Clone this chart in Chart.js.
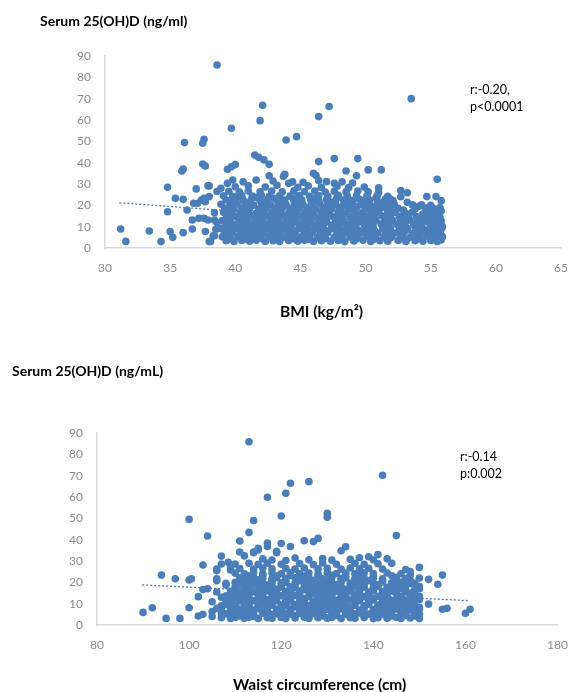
<!DOCTYPE html>
<html>
<head>
<meta charset="utf-8">
<script src="https://cdn.jsdelivr.net/npm/chart.js@4.4.0/dist/chart.umd.min.js"></script>
<style>
html, body { margin: 0; padding: 0; background: #fff; }
#wrap { position: relative; width: 581px; height: 692px; }
canvas { position: absolute; left: 0; }
#bmiChart { top: 0; }
#waistChart { top: 330px; }
</style>
</head>
<body>
<div id="wrap">
  <canvas id="bmiChart" width="581" height="330"></canvas>
  <canvas id="waistChart" width="581" height="362"></canvas>
</div>
<script>
// axis ranges (tick labels)
var bmiTicks = [30, 65, 5];
var waistTicks = [80, 180, 20];
var vitdTicks = [0, 90, 10];

// BMI vs serum 25(OH)D, scattered points
var bmiOutliers = [
  [38.6,85.8],[42.1,66.9],[41.9,59.7],[39.7,56.1],[43.9,50.6],[44.7,52.2],[36.1,49.4],[37.6,51.0],
  [37.5,49.1],[37.5,39.4],[37.7,38.4],[36.0,37.0],[35.9,36.1],[39.4,36.9],[39.7,38.1],[40.0,39.1],
  [41.5,43.6],[41.8,42.5],[42.2,41.3],[42.6,39.2],[42.6,33.9],[41.6,31.9],[43.8,34.5],[43.7,33.6],
  [53.5,70.0],[47.2,66.3],[46.4,61.6],[46.4,40.5],[47.6,41.9],[49.4,41.9],[48.5,36.1],[49.3,33.9],
  [50.2,36.6],[51.2,36.6],[55.5,32.2],[46.0,35.0],[46.2,34.0],[44.1,30.3],[44.4,31.0],[47.0,31.1],
  [47.6,30.3],[52.7,26.9],[53.2,25.9],[52.7,24.0],[53.2,21.4],[54.7,24.1],[55.4,24.1],[55.8,22.2],
  [55.8,17.3],[55.8,12.7],[55.9,10.0],[55.8,6.1],[55.8,3.8],[51.6,23.3],[51.9,23.0],[54.3,20.2],
  [54.4,15.9],[53.9,14.7],
  [34.8,28.5],[35.4,23.3],[34.8,17.0],[36.0,22.8],[36.3,17.8],[37.0,27.7],[37.9,29.2],[31.2,8.9],
  [31.6,3.1],[33.4,8.0],[34.3,3.0],[35.0,7.7],[35.2,5.0],[36.0,7.2],[36.7,8.9],[36.7,13.1],
  [37.2,13.9],[37.6,13.9],[37.9,13.1],[37.7,7.7],[38.1,3.1],[38.4,5.8],[38.5,8.8],[37.1,21.0],
  [37.4,22.5],[37.7,21.7],[38.0,24.1],[37.6,23.3],[38.0,29.1],[39.4,30.3],[39.8,31.9],[38.4,13.1],
  [38.3,5.6],[38.0,3.0],[36.8,21.0],[38.6,26.5],[38.9,28.0],[38.4,16.5],[38.6,11.8]
];

// BMI vs serum 25(OH)D, dense cloud
var bmiCore = [
  [39.3,3.4],[39.9,3.1],[40.5,3.5],[41.1,3.2],[41.6,3.6],[42.3,3.1],[42.9,3.4],[43.4,3.0],[44.1,3.5],
  [44.8,3.2],[45.3,3.6],[46.0,3.1],[46.6,3.4],[47.3,3.2],[47.9,3.5],[48.4,3.0],[49.1,3.3],[49.8,3.6],
  [50.4,3.1],[51.1,3.4],[51.7,3.2],[52.5,3.5],[53.1,3.1],[53.8,3.4],[54.4,3.2],[55.0,3.5],[55.5,3.1],
  [39.0,5.3],[39.6,5.0],[40.2,5.4],[40.8,5.1],[41.4,5.5],[41.9,4.9],[42.6,5.2],[43.2,5.6],[43.7,5.0],
  [44.4,5.3],[45.0,5.1],[45.7,5.5],[46.3,4.9],[46.9,5.3],[47.6,5.0],[48.2,5.4],[48.8,5.2],[49.4,4.9],
  [50.1,5.5],[50.7,5.0],[51.4,5.3],[52.0,5.1],[52.8,5.4],[53.4,5.0],[54.1,5.3],[54.7,5.6],[55.3,5.0],
  [55.9,5.2],
  [39.2,7.0],[39.8,7.3],[40.4,6.9],[41.0,7.2],[41.7,7.4],[42.2,6.8],[42.8,7.1],[43.5,7.3],[44.1,6.9],
  [44.6,7.2],[45.3,7.0],[45.9,7.4],[46.5,6.9],[47.1,7.2],[47.8,7.0],[48.5,7.3],[49.0,6.8],[49.7,7.1],
  [50.3,7.4],[50.9,6.9],[51.6,7.2],[52.3,7.0],[52.9,7.3],[53.6,6.9],[54.2,7.2],[54.9,7.0],[55.6,7.3],
  [38.9,9.1],[39.5,8.8],[40.1,9.2],[40.7,9.0],[41.3,8.7],[42.0,9.3],[42.5,8.9],[43.1,9.1],[43.8,8.8],
  [44.3,9.2],[45.0,9.0],[45.6,8.7],[46.2,9.3],[46.8,8.9],[47.4,9.1],[48.1,8.8],[48.7,9.2],[49.3,9.0],
  [50.0,8.7],[50.6,9.3],[51.3,8.9],[51.9,9.1],[52.6,8.8],[53.2,9.2],[53.9,9.0],[54.5,8.7],[55.2,9.2],
  [55.8,8.9],
  [39.3,10.8],[39.9,11.1],[40.5,10.7],[41.1,11.0],[41.8,10.9],[42.4,11.2],[43.0,10.7],[43.6,11.0],
  [44.2,10.8],[44.9,11.1],[45.5,10.9],[46.1,10.6],[46.7,11.2],[47.4,10.8],[48.0,11.0],[48.6,10.7],
  [49.2,11.1],[49.9,10.9],[50.5,10.6],[51.2,11.2],[51.8,10.8],[52.4,11.0],[53.0,10.7],[53.7,11.1],
  [54.3,10.9],[55.0,11.2],[55.6,10.8],
  [39.0,12.9],[39.6,12.6],[40.3,13.0],[40.9,12.8],[41.5,12.5],[42.1,13.1],[42.7,12.7],[43.3,12.9],
  [43.9,12.6],[44.6,13.0],[45.2,12.8],[45.8,12.5],[46.4,13.1],[47.0,12.7],[47.7,12.9],[48.3,12.6],
  [48.9,13.0],[49.6,12.8],[50.2,12.5],[50.8,13.1],[51.5,12.7],[52.1,12.9],[52.7,12.6],[53.4,13.0],
  [54.0,12.8],[54.7,12.5],[55.3,13.1],
  [39.4,14.6],[40.0,14.9],[40.6,14.5],[41.2,14.8],[41.9,14.7],[42.5,15.0],[43.1,14.5],[43.7,14.8],
  [44.3,14.6],[45.0,14.9],[45.6,14.7],[46.2,14.4],[46.9,15.0],[47.5,14.6],[48.1,14.8],[48.8,14.5],
  [49.4,14.9],[50.0,14.7],[50.7,14.4],[51.3,15.0],[51.9,14.6],[52.6,14.8],[53.3,14.5],[54.5,14.9],
  [55.1,14.7],[55.7,14.5],
  [39.1,16.7],[39.7,16.4],[40.4,16.8],[41.0,16.6],[41.6,16.3],[42.2,16.9],[42.8,16.5],[43.5,16.7],
  [44.1,16.4],[44.7,16.8],[45.3,16.6],[46.0,16.3],[46.6,16.9],[47.2,16.5],[47.9,16.7],[48.5,16.4],
  [49.1,16.8],[49.8,16.6],[50.4,16.3],[51.0,16.9],[51.7,16.5],[52.3,16.7],[53.0,16.4],[53.6,16.8],
  [54.8,16.6],[55.4,16.3],
  [39.2,18.6],[39.9,18.3],[40.5,18.7],[41.1,18.5],[41.8,18.2],[42.4,18.8],[43.0,18.4],[43.6,18.6],
  [44.2,18.3],[44.9,18.7],[45.5,18.5],[46.2,18.2],[46.8,18.8],[47.4,18.4],[48.0,18.6],[48.7,18.3],
  [49.3,18.7],[50.0,18.5],[50.6,18.2],[51.2,18.8],[51.9,18.4],[52.5,18.6],[53.8,18.3],[54.6,18.7],
  [55.2,18.5],[55.7,19.0],
  [38.9,20.5],[39.6,20.2],[40.2,20.6],[40.8,20.4],[41.4,20.1],[42.1,20.7],[42.7,20.3],[43.3,20.5],
  [43.9,20.2],[44.6,20.6],[45.2,20.4],[45.9,20.1],[46.5,20.7],[47.1,20.3],[47.7,20.5],[48.4,20.2],
  [49.0,20.6],[49.7,20.4],[50.3,20.1],[50.9,20.7],[51.6,20.3],[52.2,20.5],[53.6,20.2],[55.0,20.0],
  [39.3,22.5],[39.9,22.2],[40.6,22.6],[41.2,22.4],[41.9,22.1],[42.5,22.7],[43.2,22.3],[43.8,22.5],
  [44.5,22.2],[45.1,22.6],[45.8,22.4],[46.4,22.1],[47.0,22.7],[47.7,22.3],[48.3,22.5],[49.0,22.2],
  [49.6,22.6],[50.3,22.4],[50.9,22.1],[51.5,22.7],[52.1,22.3],
  [39.1,24.5],[39.8,24.2],[40.5,24.6],[41.3,24.3],[42.0,24.7],[42.6,24.2],[43.4,24.5],[44.2,24.3],
  [44.9,24.6],[45.7,24.2],[46.4,24.6],[47.1,24.3],[47.9,24.7],[48.6,24.2],[49.3,24.5],[50.1,24.3],
  [50.9,24.6],[51.7,24.2],
  [39.5,26.6],[40.3,26.3],[41.0,26.8],[41.9,26.4],[42.8,26.7],[43.6,26.3],[44.5,26.8],[45.3,26.4],
  [46.1,26.7],[46.9,26.2],[47.6,26.6],[48.5,26.3],[49.4,26.7],[50.2,26.4],[51.0,26.1],
  [40.0,28.7],[41.0,29.2],[42.3,28.6],[43.2,29.4],[44.8,28.5],[45.6,29.1],[46.6,28.4],[47.8,28.9],
  [48.7,28.3],[49.9,28.6],[51.0,28.2],
  [40.6,31.0],[42.9,31.4],[45.2,30.8],[46.4,31.6],[48.2,31.0],[49.0,30.5]
];

// BMI cloud, points lying between the rows above
var bmiFill = [
  [39.6,4.2],[40.9,4.0],[42.0,4.4],[43.3,4.1],[44.5,4.3],[45.6,4.0],[46.9,4.4],[48.1,4.1],[49.3,4.2],
  [50.6,4.0],[51.8,4.4],[53.0,4.1],[54.2,4.3],[55.4,4.0],
  [39.4,6.1],[40.6,6.3],[41.9,6.0],[43.0,6.2],[44.2,6.4],[45.5,6.0],[46.7,6.2],[47.9,6.1],[49.1,6.3],
  [50.3,6.0],[51.5,6.2],[52.7,6.4],[53.9,6.0],[55.1,6.2],
  [39.7,8.0],[40.9,8.2],[42.1,7.9],[43.4,8.1],[44.6,8.3],[45.8,7.9],[47.0,8.1],[48.3,8.0],[49.5,8.2],
  [50.7,7.9],[51.9,8.1],[53.1,8.3],[54.4,7.9],[55.5,8.1],
  [39.2,9.9],[40.4,10.1],[41.6,9.8],[42.8,10.0],[44.0,10.2],[45.3,9.8],[46.5,10.0],[47.7,9.9],
  [48.9,10.1],[50.2,9.8],[51.4,10.0],[52.6,10.2],[53.8,9.8],[55.0,10.0],
  [39.6,11.9],[40.8,11.7],[42.0,12.0],[43.3,11.8],[44.5,12.1],[45.7,11.7],[46.9,11.9],[48.2,11.8],
  [49.4,12.0],[50.6,11.7],[51.8,11.9],[53.0,12.1],[54.2,11.7],[55.4,11.9],
  [39.3,13.8],[40.5,13.6],[41.7,13.9],[43.0,13.7],[44.2,14.0],[45.4,13.6],[46.6,13.8],[47.8,13.7],
  [49.1,13.9],[50.3,13.6],[51.5,13.8],[52.8,14.0],[54.3,13.6],[55.5,13.8],
  [39.7,15.7],[40.9,15.5],[42.1,15.8],[43.4,15.6],[44.6,15.9],[45.8,15.5],[47.0,15.7],[48.3,15.6],
  [49.5,15.8],[50.7,15.5],[51.9,15.7],[53.2,15.9],[55.0,15.5],
  [39.4,17.6],[40.6,17.4],[41.9,17.7],[43.1,17.5],[44.3,17.8],[45.6,17.4],[46.8,17.6],[48.0,17.5],
  [49.2,17.7],[50.5,17.4],[51.7,17.6],[52.9,17.8],[55.1,17.4],
  [39.6,19.5],[40.8,19.3],[42.0,19.6],[43.3,19.4],[44.5,19.7],[45.7,19.3],[47.0,19.5],[48.2,19.4],
  [49.4,19.6],[50.7,19.3],[51.9,19.5],[54.1,19.6],
  [39.8,21.5],[41.0,21.3],[42.3,21.6],[43.5,21.4],[44.8,21.7],[46.0,21.3],[47.3,21.5],[48.6,21.4],
  [49.9,21.6],[51.2,21.3],
  [40.1,23.4],[41.7,23.6],[43.0,23.3],[44.7,23.5],[46.2,23.4],[47.8,23.6],[49.4,23.3],[50.8,23.5]
];
var bmiTrend = [[31.1, 21.2], [56.0, 10.0]];

// waist circumference vs serum 25(OH)D, scattered points
var waistOutliers = [
  [113,85.9],[122,66.4],[121,61.7],[117,59.9],[120,51.1],[100,49.5],[114,49.0],[113,43.4],[104,41.7],
  [111,39.4],[117,38.4],[117,36.8],[120,38.2],[122,36.8],[119,33.9],[114,34.2],[115,35.2],[111,34.2],
  [112,32.4],[107,32.3],[103,28.1],[106,25.5],[106,26.2],[94,23.4],[97,21.7],[100,21.1],[100.5,21.7],
  [102,13.3],[103,16.6],[104,17.0],[105,10.9],[106,7.8],[105,6.3],[105,4.0],[102,4.2],[103,5.0],
  [100,8.1],[98,3.1],[95,3.1],[92,8.1],[90,5.9],[106,20.8],[106,21.6],[108,18.7],[107,28.6],
  [108.5,29.4],[109,27.5],[109,26.0],[114,33.9],[115,35.9],[119,34.5],[108,19.5],[109,25.8],
  [142,70.2],[126,67.2],[130,52.4],[130,50.5],[145,41.9],[125,39.5],[127,39.1],[128,40.6],[133,34.8],
  [134,36.7],[139,32.0],[141,33.0],[144,28.9],[150,27.0],[148,25.0],[148,23.4],[152,21.4],[154,19.1],
  [155,23.4],[152,9.8],[155,7.4],[156,7.8],[160,5.5],[161,7.4],[150,22.0],[148,19.5],[148,15.0],
  [150,17.0],[146,18.0],[107,13.0],[107,9.0],[106,15.5],[107,5.5],[108,11.0]
];

// waist circumference vs serum 25(OH)D, dense cloud
var waistCore = [
  [107,3.4],[109,3.1],[110,3.5],[112,3.2],[113,3.6],[115,3.1],[117,3.4],[118,3.2],[120,3.5],[121,3.0],
  [123,3.3],[125,3.6],[126,3.1],[128,3.4],[130,3.2],[131,3.5],[133,3.1],[135,3.4],[136,3.2],[138,3.5],
  [140,3.0],[141,3.4],[143,3.2],[145,3.5],[146,3.1],[148,3.3],[150,3.0],
  [108,5.2],[110,5.5],[111,5.0],[113,5.4],[114,5.1],[116,5.5],[118,5.0],[119,5.3],[121,5.6],[122,5.1],
  [124,5.4],[126,5.0],[127,5.3],[129,5.5],[131,5.1],[132,5.4],[134,5.0],[136,5.3],[137,5.6],[139,5.1],
  [141,5.4],[142,5.0],[144,5.3],[146,5.5],[147,5.1],[149,5.4],[150,5.0],
  [107,7.4],[109,7.1],[111,7.5],[112,7.2],[114,7.0],[115,7.6],[117,7.2],[119,7.4],[120,7.1],[122,7.5],
  [124,7.2],[125,7.0],[127,7.6],[128,7.2],[130,7.4],[132,7.1],[133,7.5],[135,7.2],[137,7.0],[138,7.6],
  [140,7.2],[142,7.4],[143,7.1],[145,7.5],[147,7.2],[148,7.0],[150,7.5],
  [108,9.5],[110,9.2],[112,9.6],[113,9.3],[115,9.1],[116,9.7],[118,9.3],[120,9.5],[121,9.2],[123,9.6],
  [125,9.3],[126,9.1],[128,9.7],[129,9.3],[131,9.5],[133,9.2],[134,9.6],[136,9.3],[138,9.1],[139,9.7],
  [141,9.3],[143,9.5],[144,9.2],[146,9.6],[148,9.3],[149,9.1],
  [109,11.6],[111,11.3],[112,11.7],[114,11.4],[116,11.2],[117,11.8],[119,11.4],[121,11.6],[122,11.3],
  [124,11.7],[125,11.4],[127,11.2],[129,11.8],[130,11.4],[132,11.6],[134,11.3],[135,11.7],[137,11.4],
  [139,11.2],[140,11.8],[142,11.4],[144,11.6],[145,11.3],[147,11.7],[149,11.4],[150,11.9],
  [108,13.7],[110,13.4],[111,13.8],[113,13.5],[115,13.3],[116,13.9],[118,13.5],[120,13.7],[121,13.4],
  [123,13.8],[124,13.5],[126,13.3],[128,13.9],[129,13.5],[131,13.7],[133,13.4],[134,13.8],[136,13.5],
  [138,13.3],[139,13.9],[141,13.5],[143,13.7],[146,13.4],[148,13.8],[150,13.5],
  [109,15.8],[111,15.5],[112,15.9],[114,15.6],[116,15.4],[117,16.0],[119,15.6],[121,15.8],[122,15.5],
  [124,15.9],[126,15.6],[127,15.4],[129,16.0],[131,15.6],[132,15.8],[134,15.5],[135,15.9],[137,15.6],
  [139,15.4],[140,16.0],[142,15.6],[144,15.8],[147,15.5],[149,15.9],
  [110,17.9],[112,17.6],[113,18.0],[115,17.7],[117,17.5],[118,18.1],[120,17.7],[122,17.9],[123,17.6],
  [125,18.0],[127,17.7],[128,17.5],[130,18.1],[132,17.7],[133,17.9],[135,17.6],[136,18.0],[138,17.7],
  [140,17.5],[141,18.1],[143,17.7],[145,17.9],[147,17.6],[150,18.0],
  [110,20.0],[111,19.7],[113,20.1],[115,19.8],[116,19.6],[118,20.2],[120,19.8],[121,20.0],[123,19.7],
  [125,20.1],[126,19.8],[128,19.6],[130,20.2],[131,19.8],[133,20.0],[135,19.7],[137,20.1],[138,19.8],
  [140,19.6],[142,20.2],[144,19.8],[146,20.0],[149,19.7],
  [111,22.1],[113,21.8],[114,22.2],[116,21.9],[118,21.7],[119,22.3],[121,21.9],[123,22.1],[124,21.8],
  [126,22.2],[128,21.9],[129,21.7],[131,22.3],[133,21.9],[134,22.1],[136,21.8],[138,22.2],[140,21.9],
  [142,21.7],[145,22.2],[147,21.8],
  [110,24.3],[112,24.0],[114,24.5],[116,24.1],[118,24.4],[120,24.0],[122,24.5],[124,24.1],[126,24.4],
  [128,24.0],[130,24.5],[132,24.1],[134,24.4],[136,24.0],[138,24.5],[140,24.1],[143,24.4],[146,24.0],
  [111,26.5],[114,26.2],[116,26.7],[118,26.3],[121,26.6],[123,26.2],[125,26.7],[128,26.3],[130,26.6],
  [133,26.2],[135,26.7],[137,26.3],[139,26.6],[142,26.2],[147,26.0],
  [110,28.6],[113,28.9],[115,28.4],[117,29.0],[120,28.5],[124,28.8],[127,28.3],[129,29.1],[132,28.5],
  [136,28.9],[138,28.4],[141,28.7],
  [116,31.0],[118,30.5],[121,30.2],[123,31.4],[126,30.6],[129,31.2],[131,30.4],[135,30.8],[137,31.5],
  [140,30.6],[143,31.0]
];

// waist cloud, points lying between the rows above
var waistFill = [
  [111,4.3],[114,4.1],[117,4.5],[120,4.2],[123,4.4],[126,4.1],[129,4.3],[132,4.5],[135,4.2],[138,4.4],
  [141,4.1],[144,4.3],[147,4.5],[149,4.2],
  [109,6.3],[112,6.5],[116,6.2],[119,6.4],[122,6.1],[125,6.3],[128,6.5],[131,6.2],[134,6.4],[137,6.1],
  [140,6.3],[143,6.5],[146,6.2],[149,6.4],
  [110,8.4],[113,8.2],[117,8.6],[120,8.3],[123,8.5],[126,8.2],[129,8.4],[132,8.6],[135,8.3],[138,8.5],
  [141,8.2],[144,8.4],[147,8.6],[150,8.3],
  [109,10.5],[112,10.7],[115,10.4],[118,10.6],[121,10.3],[124,10.5],[127,10.7],[130,10.4],[133,10.6],
  [136,10.3],[139,10.5],[142,10.7],[145,10.4],[148,10.6],
  [110,12.6],[113,12.4],[116,12.8],[119,12.5],[122,12.7],[125,12.4],[128,12.6],[131,12.8],[134,12.5],
  [137,12.7],[140,12.4],[143,12.6],[146,12.8],[149,12.5],
  [109,14.7],[112,14.9],[115,14.6],[118,14.8],[121,14.5],[124,14.7],[127,14.9],[130,14.6],[133,14.8],
  [136,14.5],[139,14.7],[142,14.9],[145,14.6],[148,14.8],
  [110,16.8],[113,16.6],[116,17.0],[119,16.7],[122,16.9],[125,16.6],[128,16.8],[131,17.0],[134,16.7],
  [137,16.9],[140,16.6],[143,16.8],[146,17.0],[149,16.7],
  [111,18.9],[114,19.1],[117,18.8],[120,19.0],[123,18.7],[126,18.9],[129,19.1],[132,18.8],[135,19.0],
  [138,18.7],[141,18.9],[144,19.1],[147,18.8],
  [112,21.0],[115,21.2],[118,20.9],[121,21.1],[124,20.8],[127,21.0],[130,21.2],[133,20.9],[136,21.1],
  [139,20.8],[142,21.0],[145,21.2],[148,20.9],
  [113,23.1],[116,23.3],[119,23.0],[122,23.2],[125,22.9],[128,23.1],[131,23.3],[134,23.0],[137,23.2],
  [140,22.9],[144,23.1]
];
var waistTrend = [[89.8, 18.8], [160.9, 11.4]];

var dotColor = '#4a7ebb';
var fontFace = 'Lato, "Open Sans", sans-serif';

function toXY(list) {
  return list.map(function(p) { return {x: p[0], y: p[1]}; });
}

// draws the loose texts (axis headings, r / p notes) at fixed spots
function textPlugin(items) {
  return {
    id: 'looseText',
    afterDraw: function(chart) {
      var ctx = chart.ctx;
      ctx.save();
      ctx.textBaseline = 'middle';
      ctx.textAlign = 'left';
      items.forEach(function(t) {
        ctx.font = t.font;
        ctx.fillStyle = '#000';
        ctx.fillText(t.text, t.x, t.y);
      });
      ctx.restore();
    }
  };
}

function makeChart(id, points, trend, xt, box, texts) {
  return new Chart(document.getElementById(id), {
    type: 'scatter',
    data: {
      datasets: [{
        data: toXY(points),
        backgroundColor: dotColor,
        borderWidth: 0,
        pointRadius: 3.8,
        pointHoverRadius: 3.8,
        order: 0
      }, {
        data: toXY(trend),
        showLine: true,
        borderColor: dotColor,
        borderWidth: 1.3,
        borderDash: [2, 2],
        pointRadius: 0,
        order: 1
      }]
    },
    options: {
      responsive: false,
      animation: false,
      layout: { padding: { left: 0, right: box.right, top: box.top, bottom: 0 } },
      plugins: { legend: { display: false }, tooltip: { enabled: false } },
      scales: {
        x: {
          type: 'linear',
          min: xt[0], max: xt[1],
          afterFit: function(s) { s.height = box.xh; },
          grid: { display: false, drawTicks: false },
          border: { display: true, color: '#d9d9d9', width: 1.5 },
          ticks: { stepSize: xt[2], padding: 13, color: '#8c8c8c', font: { family: fontFace, size: 12 } }
        },
        y: {
          min: vitdTicks[0], max: vitdTicks[1],
          afterFit: function(s) { s.width = box.left; },
          grid: { display: false, drawTicks: false },
          border: { display: true, color: '#d9d9d9', width: 1.5 },
          ticks: { stepSize: vitdTicks[2], padding: 14, color: '#8c8c8c', font: { family: fontFace, size: 12 } }
        }
      }
    },
    plugins: [textPlugin(texts)]
  });
}

var bold = 'bold 14px ' + fontFace;
var boldBig = 'bold 15.5px ' + fontFace;
var plain = '12.5px ' + fontFace;

makeChart('bmiChart', bmiOutliers.concat(bmiCore, bmiFill), bmiTrend, bmiTicks,
  { left: 105, right: 6, top: 56, xh: 82 },
  [
    { text: 'Serum 25(OH)D (ng/ml)', x: 40, y: 21, font: bold },
    { text: 'BMI (kg/m\u00b2)', x: 280, y: 312, font: boldBig },
    { text: 'r:-0.20,', x: 470, y: 90, font: plain },
    { text: 'p<0.0001', x: 470, y: 107, font: plain }
  ]);

makeChart('waistChart', waistOutliers.concat(waistCore, waistFill), waistTrend, waistTicks,
  { left: 97, right: 16, top: 103, xh: 67 },
  [
    { text: 'Serum 25(OH)D (ng/mL)', x: 12, y: 41, font: bold },
    { text: 'Waist circumference (cm)', x: 233, y: 355, font: boldBig },
    { text: 'r:-0.14', x: 460, y: 127, font: plain },
    { text: 'p:0.002', x: 460, y: 144, font: plain }
  ]);
</script>
</body>
</html>
